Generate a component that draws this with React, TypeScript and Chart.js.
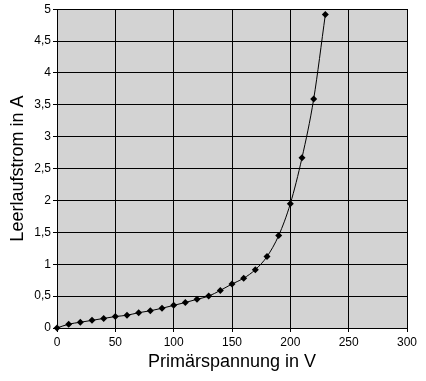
import React, { useEffect, useRef } from "react";
import { Chart, registerables } from "chart.js";

Chart.register(...registerables);

const voltages = [0, 10, 20, 30, 40, 50, 60, 70, 80, 90, 100, 110, 120, 130, 140, 150, 160, 170, 180, 190, 200, 210, 220, 230];
const currents = [0, 0.06, 0.09, 0.12, 0.15, 0.18, 0.2, 0.24, 0.27, 0.31, 0.355, 0.4, 0.45, 0.5, 0.59, 0.69, 0.78, 0.915, 1.12, 1.45, 1.95, 2.67, 3.59, 4.915];
const xTitle = "Primärspannung in V";
const yTitle = "Leerlaufstrom in A";

const FONT = "'Liberation Sans', Arial, sans-serif";

const bgPlugin = {
  id: "plotBg",
  beforeDraw(chart: any) {
    const { ctx, chartArea } = chart;
    ctx.save();
    ctx.fillStyle = "#d3d3d3";
    ctx.fillRect(chartArea.left, chartArea.top, chartArea.right - chartArea.left, chartArea.bottom - chartArea.top);
    ctx.restore();
  },
  afterDatasetsDraw(chart: any) {
    const { ctx, chartArea } = chart;
    ctx.save();
    ctx.strokeStyle = "#000";
    ctx.lineWidth = 1;
    ctx.strokeRect(Math.round(chartArea.left) + 0.5, Math.round(chartArea.top) + 0.5, Math.round(chartArea.right - chartArea.left), Math.round(chartArea.bottom - chartArea.top));
    ctx.restore();
  },
};

export default function App() {
  const ref = useRef<HTMLCanvasElement>(null);
  useEffect(() => {
    document.body.style.margin = "0";
    const chart = new Chart(ref.current!, {
      type: "line",
      data: {
        datasets: [
          {
            data: voltages.map((v, i) => ({ x: v, y: currents[i] })),
            borderColor: "#000",
            backgroundColor: "#000",
            borderWidth: 1,
            pointStyle: "rectRot",
            pointRadius: 3.5,
            pointBorderWidth: 0,
            tension: 0.4,
            cubicInterpolationMode: "monotone",
            clip: false as any,
          },
        ],
      },
      options: {
        animation: false,
        responsive: false,
        devicePixelRatio: 1,
        layout: { padding: { top: 9, right: 19, left: 0, bottom: 0 } },
        plugins: { legend: { display: false }, tooltip: { enabled: false } },
        scales: {
          x: {
            type: "linear",
            min: 0,
            max: 300,
            ticks: {
              stepSize: 50,
              color: "#000",
              font: { family: FONT, size: 12 },
              padding: 3,
              maxRotation: 0,
              callback: (v: any) => String(v).replace(".", ","),
            },
            grid: { color: "#000", lineWidth: 1, tickLength: 4, tickColor: "#000" },
            border: { color: "#000" },
            title: { display: true, text: xTitle, color: "#000", font: { family: FONT, size: 18 }, padding: { top: 2, bottom: 8 } },
            afterFit: (s: any) => { s.height = 53; },
          },
          y: {
            type: "linear",
            min: 0,
            max: 5,
            ticks: {
              stepSize: 0.5,
              color: "#000",
              font: { family: FONT, size: 12 },
              padding: 2,
              callback: (v: any) => String(v).replace(".", ","),
            },
            grid: { color: "#000", lineWidth: 1, tickLength: 4, tickColor: "#000" },
            border: { color: "#000" },
            title: { display: true, text: yTitle, color: "#000", font: { family: FONT, size: 18 }, padding: { top: 7, bottom: 4 } },
            afterFit: (s: any) => { s.width = 57; },
          },
        },
      },
      plugins: [bgPlugin],
    });
    return () => chart.destroy();
  }, []);
  return <canvas ref={ref} width={426} height={381} style={{ display: "block" }} />;
}
